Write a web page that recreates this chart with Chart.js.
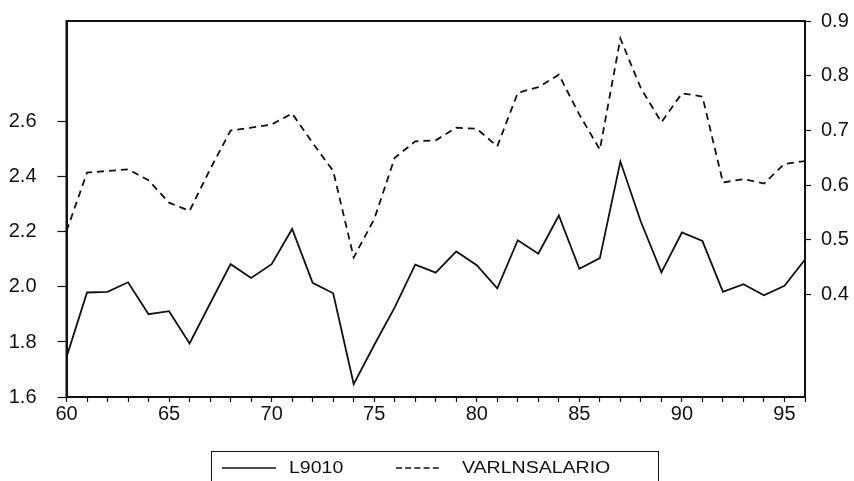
<!DOCTYPE html>
<html>
<head>
<meta charset="utf-8">
<script src="https://cdn.jsdelivr.net/npm/chart.js@4/dist/chart.umd.min.js"></script>
<style>
  html, body { margin: 0; padding: 0; background: #fff; }
  #wrap { position: relative; width: 854px; height: 481px; overflow: hidden; }
  #c { position: absolute; left: 0; top: 0; }
  #legend {
    position: absolute; left: 211px; top: 451px; width: 448px; height: 40px;
    border: 1.5px solid #111; box-sizing: border-box;
    font-family: "Liberation Sans", Arial, sans-serif; font-size: 16px; color: #111;
  }
  #legend .item { position: absolute; top: 6px; height: 20px; line-height: 20px; transform: scale(1.22, 1); transform-origin: 0 50%; white-space: nowrap; }
  #legend svg { position: absolute; top: 5px; }
</style>
</head>
<body>
<div id="wrap">
  <canvas id="c" width="854" height="481"></canvas>
  <div id="legend">
    <svg style="left:10px" width="58" height="20"><line x1="0" y1="11" x2="54" y2="11" stroke="#111" stroke-width="1.5"/></svg>
    <div class="item" style="left:77px">L9010</div>
    <svg style="left:184px" width="46" height="20"><line x1="0" y1="11" x2="46" y2="11" stroke="#111" stroke-width="1.5" stroke-dasharray="6,3.2"/></svg>
    <div class="item" style="left:250px">VARLNSALARIO</div>
  </div>
</div>
<script>
const years = [60,61,62,63,64,65,66,67,68,69,70,71,72,73,74,75,76,77,78,79,80,81,82,83,84,85,86,87,88,89,90,91,92,93,94,95,96];
const l9010 = [1.745,1.98,1.982,2.017,1.901,1.912,1.795,1.94,2.083,2.033,2.083,2.211,2.015,1.977,1.647,1.789,1.926,2.081,2.052,2.129,2.079,1.995,2.17,2.121,2.26,2.066,2.105,2.456,2.237,2.053,2.198,2.167,1.982,2.01,1.97,2.004,2.1];
const varlnsalario = [0.516,0.623,0.626,0.629,0.609,0.568,0.553,0.629,0.7,0.705,0.711,0.731,0.677,0.626,0.468,0.538,0.65,0.68,0.682,0.705,0.703,0.671,0.769,0.779,0.802,0.729,0.665,0.868,0.777,0.715,0.768,0.762,0.605,0.611,0.603,0.639,0.644];
const leftTicks = [1.6,1.8,2.0,2.2,2.4,2.6];
const rightTicks = [0.4,0.5,0.6,0.7,0.8,0.9];
const xLabelEvery = 5;

const INK = '#111';
const FONT = {family: '"Liberation Sans", Arial, sans-serif', size: 20};

const framePlugin = {
  id: 'frame',
  afterDraw(chart) {
    const a = chart.chartArea, ctx = chart.ctx;
    ctx.save();
    ctx.strokeStyle = INK;
    ctx.lineWidth = 2;
    ctx.strokeRect(a.left, a.top, a.right - a.left, a.bottom - a.top);
    ctx.restore();
  }
};

function noPadV(s, w) { s.width = w; s.paddingTop = 0; s.paddingBottom = 0; }

new Chart(document.getElementById('c'), {
  type: 'line',
  data: {
    datasets: [
      {
        label: 'L9010',
        data: years.map((y, i) => ({x: y, y: l9010[i]})),
        yAxisID: 'yL',
        borderColor: INK, borderWidth: 1.8, pointRadius: 0, tension: 0, fill: false
      },
      {
        label: 'VARLNSALARIO',
        data: years.map((y, i) => ({x: y, y: varlnsalario[i]})),
        yAxisID: 'yR',
        borderColor: INK, borderWidth: 1.8, borderDash: [7, 5], pointRadius: 0, tension: 0, fill: false
      }
    ]
  },
  options: {
    responsive: false,
    animation: false,
    events: [],
    layout: {padding: {top: 21, left: 0, right: 0, bottom: 0}},
    plugins: {legend: {display: false}, tooltip: {enabled: false}},
    scales: {
      x: {
        type: 'linear', min: 60, max: 96,
        afterFit(s) { s.height = 84; s.paddingLeft = 0; s.paddingRight = 0; },
        afterBuildTicks(s) { s.ticks = years.map(v => ({value: v})); },
        grid: {drawOnChartArea: false, drawTicks: true, tickLength: 5, tickColor: INK, tickWidth: 1.2},
        border: {display: true, color: INK, width: 2},
        ticks: {
          autoSkip: false, maxRotation: 0, color: INK, font: FONT, padding: 0,
          callback: v => (v % xLabelEvery === 0 ? String(v) : '')
        }
      },
      yL: {
        type: 'linear', position: 'left', min: 1.6, max: 2.967,
        afterFit(s) { noPadV(s, 66.5); },
        afterBuildTicks(s) { s.ticks = leftTicks.map(v => ({value: v})); },
        grid: {drawOnChartArea: false, tickLength: 9, tickColor: INK, tickWidth: 1.2},
        border: {display: true, color: INK, width: 2},
        ticks: {color: INK, font: FONT, padding: 21, callback: v => v.toFixed(1)}
      },
      yR: {
        type: 'linear', position: 'right', min: 0.213, max: 0.9,
        afterFit(s) { noPadV(s, 49); },
        afterBuildTicks(s) { s.ticks = rightTicks.map(v => ({value: v})); },
        grid: {drawOnChartArea: false, tickLength: 6, tickColor: INK, tickWidth: 1.2},
        border: {display: true, color: INK, width: 2},
        ticks: {color: INK, font: FONT, padding: 10, callback: v => v.toFixed(1)}
      }
    }
  },
  plugins: [framePlugin]
});
</script>
</body>
</html>
